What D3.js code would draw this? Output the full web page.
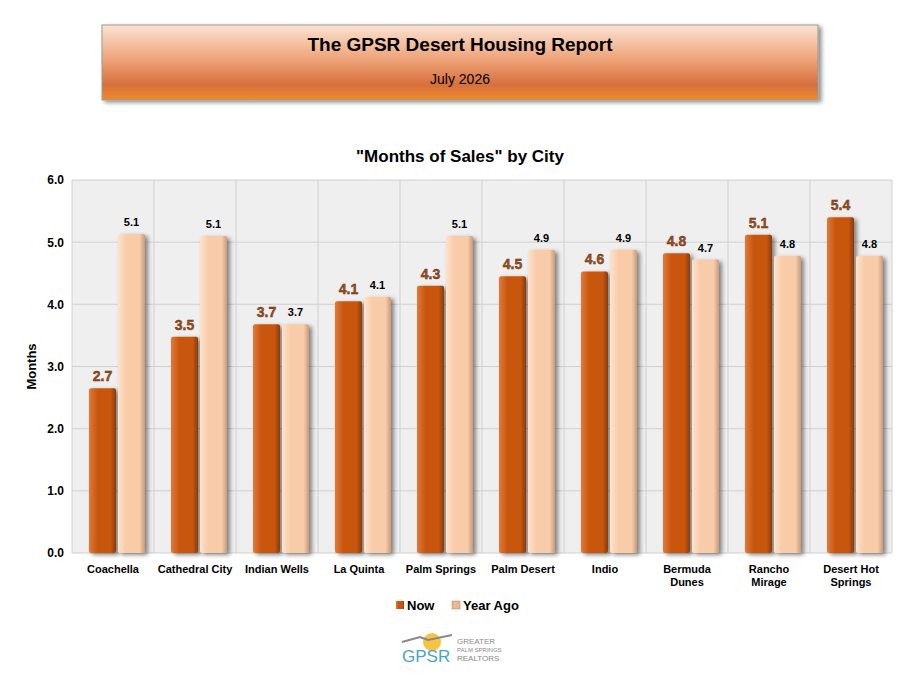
<!DOCTYPE html>
<html lang="en">
<head>
<meta charset="UTF-8">
<script src="https://cdn.jsdelivr.net/npm/d3@7"></script>
<style>
body { margin: 0; background: #fff; font-family: Arial, "Liberation Sans", sans-serif; }
</style>
</head>
<body>
<svg id="chart" width="922" height="681"></svg>
<script>
const cities = ["Coachella", "Cathedral City", "Indian Wells", "La Quinta", "Palm Springs",
  "Palm Desert", "Indio", "Bermuda|Dunes", "Rancho|Mirage", "Desert Hot|Springs"];
const nowVals = [2.65, 3.48, 3.68, 4.05, 4.3, 4.45, 4.53, 4.82, 5.12, 5.4];
const nowLabels = ["2.7", "3.5", "3.7", "4.1", "4.3", "4.5", "4.6", "4.8", "5.1", "5.4"];
const agoVals = [5.13, 5.1, 3.68, 4.12, 5.1, 4.88, 4.88, 4.72, 4.78, 4.78];
const agoLabels = ["5.1", "5.1", "3.7", "4.1", "5.1", "4.9", "4.9", "4.7", "4.8", "4.8"];
const yTicks = [0, 1, 2, 3, 4, 5, 6];

const svg = d3.select("#chart");
const defs = svg.append("defs");

const ban = defs.append("linearGradient").attr("id", "ban").attr("x1", 0).attr("y1", 0).attr("x2", 0).attr("y2", 1);
ban.append("stop").attr("offset", "0%").attr("stop-color", "#fbe3d3");
ban.append("stop").attr("offset", "45%").attr("stop-color", "#eea47a");
ban.append("stop").attr("offset", "80%").attr("stop-color", "#d6703c");
ban.append("stop").attr("offset", "100%").attr("stop-color", "#f08a2a");

function barGrad(id, c0, c1, c2) {
  const g = defs.append("linearGradient").attr("id", id).attr("x1", 0).attr("y1", 0).attr("x2", 1).attr("y2", 0);
  g.append("stop").attr("offset", "0%").attr("stop-color", c0);
  g.append("stop").attr("offset", "30%").attr("stop-color", c1);
  g.append("stop").attr("offset", "80%").attr("stop-color", c1);
  g.append("stop").attr("offset", "100%").attr("stop-color", c2);
}
barGrad("gNow", "#e07a3a", "#c9570f", "#8a3a08");
barGrad("gAgo", "#fde3cc", "#f9cca9", "#c99a78");
const sh = defs.append("filter").attr("id", "sh").attr("x", "-20%").attr("y", "-20%").attr("width", "160%").attr("height", "140%");
sh.append("feDropShadow").attr("dx", 3).attr("dy", 2).attr("stdDeviation", 2).attr("flood-color", "#000").attr("flood-opacity", 0.45);

// banner
svg.append("rect").attr("x", 102).attr("y", 25).attr("width", 716).attr("height", 75)
  .attr("fill", "url(#ban)").attr("stroke", "#999").attr("filter", "url(#sh)");
svg.append("text").attr("x", 460).attr("y", 51).attr("text-anchor", "middle")
  .attr("font-size", 19).attr("font-weight", "bold").text("The GPSR Desert Housing Report");
svg.append("text").attr("x", 460).attr("y", 84).attr("text-anchor", "middle")
  .attr("font-size", 14).text("July 2026");

svg.append("text").attr("x", 460).attr("y", 162).attr("text-anchor", "middle")
  .attr("font-size", 17).attr("font-weight", "bold").text("\"Months of Sales\" by City");

const m = { left: 72, right: 892, top: 180, bottom: 553 };
const x = d3.scaleBand().domain(d3.range(cities.length)).range([m.left, m.right]);
const y = d3.scaleLinear().domain([0, 6]).range([m.bottom, m.top]);

svg.append("rect").attr("x", m.left).attr("y", m.top).attr("width", m.right - m.left)
  .attr("height", m.bottom - m.top).attr("fill", "#efefef");
svg.append("g").selectAll("line").data(yTicks).join("line")
  .attr("x1", m.left).attr("x2", m.right).attr("y1", d => y(d)).attr("y2", d => y(d))
  .attr("stroke", "#d0d0d0");
svg.append("g").selectAll("line").data(d3.range(cities.length + 1)).join("line")
  .attr("x1", d => m.left + d * x.bandwidth()).attr("x2", d => m.left + d * x.bandwidth())
  .attr("y1", m.top).attr("y2", m.bottom).attr("stroke", "#d0d0d0");

const yAxis = svg.append("g").attr("transform", `translate(${m.left},0)`)
  .call(d3.axisLeft(y).tickValues(yTicks).tickFormat(d3.format(".1f")).tickSize(0).tickPadding(8));
yAxis.select(".domain").remove();
yAxis.selectAll("text").attr("font-size", 12).attr("font-weight", "bold").attr("fill", "#000")
  .attr("font-family", "Arial, 'Liberation Sans', sans-serif");

svg.append("text").attr("transform", `translate(36,${(m.top + m.bottom) / 2}) rotate(-90)`)
  .attr("text-anchor", "middle").attr("font-size", 13).attr("font-weight", "bold").text("Months");

const bw = 27, off = 17;
const groups = svg.append("g").selectAll("g").data(cities).join("g")
  .attr("transform", (d, i) => `translate(${x(i)},0)`);
groups.append("rect").attr("x", off).attr("width", bw)
  .attr("y", (d, i) => y(nowVals[i])).attr("height", (d, i) => m.bottom - y(nowVals[i]))
  .attr("fill", "url(#gNow)").attr("filter", "url(#sh)").attr("rx", 2);
groups.append("rect").attr("x", off + bw + 2).attr("width", bw)
  .attr("y", (d, i) => y(agoVals[i])).attr("height", (d, i) => m.bottom - y(agoVals[i]))
  .attr("fill", "url(#gAgo)").attr("filter", "url(#sh)").attr("rx", 2);
groups.append("text").attr("x", off + bw / 2).attr("y", (d, i) => y(nowVals[i]) - 7)
  .attr("text-anchor", "middle").attr("font-size", 14).attr("font-weight", "bold")
  .attr("fill", "#a0501c").attr("stroke", "#5a2a0a").attr("stroke-width", 0.4)
  .text((d, i) => nowLabels[i]);
groups.append("text").attr("x", off + bw * 1.5 + 2).attr("y", (d, i) => y(agoVals[i]) - 8)
  .attr("text-anchor", "middle").attr("font-size", 11).attr("font-weight", "bold")
  .text((d, i) => agoLabels[i]);
groups.each(function (d) {
  const t = d3.select(this).append("text").attr("x", x.bandwidth() / 2).attr("y", 573)
    .attr("text-anchor", "middle").attr("font-size", 11).attr("font-weight", "bold");
  d.split("|").forEach((s, k) => t.append("tspan").attr("x", x.bandwidth() / 2).attr("dy", k ? 13 : 0).text(s));
});

// legend
const leg = svg.append("g").attr("transform", "translate(396,610)");
leg.append("rect").attr("x", 0).attr("y", -9).attr("width", 8).attr("height", 8).attr("fill", "url(#gNow)");
leg.append("text").attr("x", 11).attr("y", 0).attr("font-size", 13).attr("font-weight", "bold").text("Now");
leg.append("rect").attr("x", 56).attr("y", -9).attr("width", 8).attr("height", 8).attr("fill", "#e8b894").attr("stroke", "#b08060").attr("stroke-width", 0.5);
leg.append("text").attr("x", 67).attr("y", 0).attr("font-size", 13).attr("font-weight", "bold").text("Year Ago");

// logo
const logo = svg.append("g").attr("transform", "translate(400,632)");
logo.append("circle").attr("cx", 32).attr("cy", 10).attr("r", 9).attr("fill", "#f5c542");
logo.append("path").attr("d", "M2,10 L20,5 L28,8 L52,3").attr("stroke", "#888").attr("fill", "none").attr("stroke-width", 2);
logo.append("text").attr("x", 2).attr("y", 30).attr("font-size", 17).attr("fill", "#4aa3c8").text("GPSR");
logo.append("text").attr("x", 57).attr("y", 12).attr("font-size", 8).attr("fill", "#888").text("GREATER");
logo.append("text").attr("x", 57).attr("y", 20).attr("font-size", 6).attr("fill", "#888").text("PALM SPRINGS");
logo.append("text").attr("x", 57).attr("y", 29).attr("font-size", 8).attr("fill", "#888").text("REALTORS");
</script>
</body>
</html>
